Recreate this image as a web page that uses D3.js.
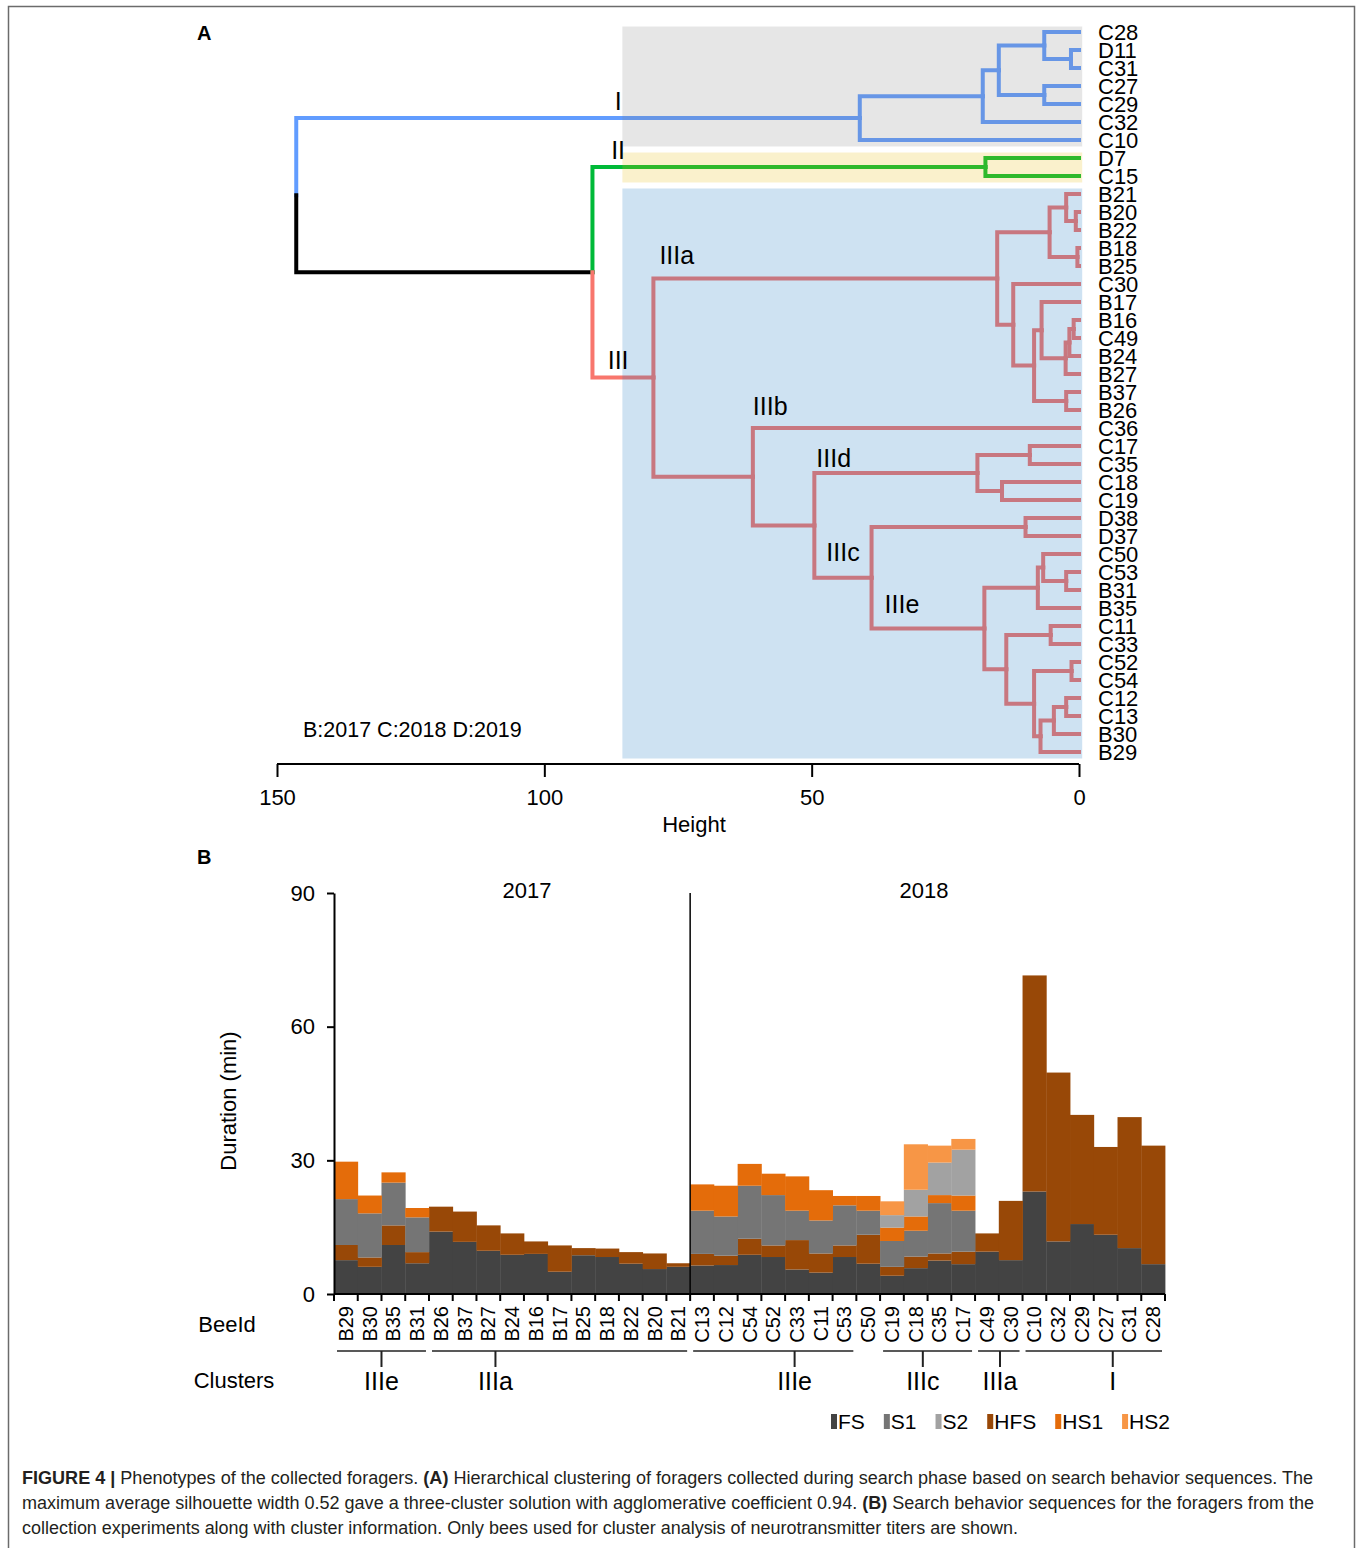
<!DOCTYPE html>
<html>
<head>
<meta charset="utf-8">
<script src="https://cdn.jsdelivr.net/npm/d3@7"></script>
<style>
  body { margin: 0; background: #fff; }
  svg { display: block; font-family: "Liberation Sans", Arial, sans-serif; }
</style>
</head>
<body>
<svg id="fig" width="1362" height="1548"></svg>
<script>
// ---------- Panel A: dendrogram ----------
const leafOrder = ["C28", "D11", "C31", "C27", "C29", "C32", "C10", "D7", "C15",
  "B21", "B20", "B22", "B18", "B25", "C30", "B17", "B16", "C49", "B24", "B27", "B37", "B26",
  "C36", "C17", "C35", "C18", "C19", "D38", "D37", "C50", "C53", "B31", "B35",
  "C11", "C33", "C52", "C54", "C12", "C13", "B30", "B29"];

// [left, right, height]; "mN" refers to the N-th merge
const merges = [
  ["D11", "C31", 1.5],   // m0
  ["C28", "m0", 6.5],    // m1
  ["C27", "C29", 6.5],   // m2
  ["m1", "m2", 15],      // m3
  ["m3", "C32", 18],     // m4
  ["m4", "C10", 41],     // m5  cluster I
  ["D7", "C15", 17.5],   // m6  cluster II
  ["B20", "B22", 0.6],   // m7
  ["B21", "m7", 2.4],    // m8
  ["B18", "B25", 0.3],   // m9
  ["m8", "m9", 5.5],     // m10
  ["B16", "C49", 1.0],   // m11
  ["m11", "B24", 1.8],   // m12
  ["m12", "B27", 2.5],   // m13
  ["B17", "m13", 7.0],   // m14
  ["B37", "B26", 2.4],   // m15
  ["m14", "m15", 8.4],   // m16
  ["C30", "m16", 12.3],  // m17
  ["m10", "m17", 15.3],  // m18 IIIa
  ["C17", "C35", 9.2],   // m19
  ["C18", "C19", 14.4],  // m20
  ["m19", "m20", 19],    // m21 IIId
  ["D38", "D37", 10],    // m22
  ["C53", "B31", 2.4],   // m23
  ["C50", "m23", 6.7],   // m24
  ["m24", "B35", 7.7],   // m25
  ["C11", "C33", 5.3],   // m26
  ["C52", "C54", 1.4],   // m27
  ["C12", "C13", 2.4],   // m28
  ["m28", "B30", 4.7],   // m29
  ["m29", "B29", 7.2],   // m30
  ["m27", "m30", 8.4],   // m31
  ["m26", "m31", 13.6],  // m32
  ["m25", "m32", 17.7],  // m33 IIIe
  ["m22", "m33", 38.8],  // m34 IIIc
  ["m21", "m34", 49.5],  // m35
  ["C36", "m35", 61],    // m36 IIIb
  ["m18", "m36", 79.6],  // m37 III
  ["m6", "m37", 91],     // m38
  ["m5", "m38", 146.4]   // m39 root
];

const clusterColors = { m5: "#619CFF", m6: "#00BA38", m37: "#F8766D" };
const clusterBoxes = [
  { first: "C28", last: "C10", fill: "#808080", op: 0.2 },
  { first: "D7", last: "C15", fill: "#E7B800", op: 0.2 },
  { first: "B21", last: "B29", fill: "#1f7bc3", op: 0.22 }
];
const cutHeight = 85.4;
const clusterTags = ["I", "II", "III", "IIIa", "IIIb", "IIId", "IIIc", "IIIe"];
const heightTicks = [150, 100, 50, 0];

// ---------- Panel B: search behaviour sequences ----------
const bees = ["B29", "B30", "B35", "B31", "B26", "B37", "B27", "B24", "B16", "B17", "B25", "B18", "B22", "B20", "B21",
  "C13", "C12", "C54", "C52", "C33", "C11", "C53", "C50", "C19", "C18", "C35", "C17", "C49", "C30",
  "C10", "C32", "C29", "C27", "C31", "C28"];
const FS  = [7.6, 6.1, 11.0, 6.9, 14.0, 11.7, 9.7, 8.8, 9.0, 5.0, 8.7, 8.3, 6.8, 5.6, 6.1,
  6.4, 6.5, 8.8, 8.3, 5.5, 4.8, 8.3, 6.8, 4.1, 5.8, 7.5, 6.7, 9.5, 7.6,
  23.0, 11.8, 15.7, 13.3, 10.3, 6.7];
const HFS = [3.4, 2.1, 4.4, 2.5, 5.6, 6.8, 5.7, 4.8, 2.8, 5.9, 1.6, 1.9, 2.6, 3.5, 0.8,
  2.6, 2.1, 3.6, 2.6, 6.6, 4.3, 2.6, 6.5, 2.0, 2.6, 1.6, 2.8, 4.1, 13.3,
  48.5, 37.9, 24.5, 19.7, 29.4, 26.6];
const S1  = [10.3, 9.9, 9.6, 7.8, 0, 0, 0, 0, 0, 0, 0, 0, 0, 0, 0,
  9.7, 8.8, 11.9, 11.3, 6.6, 7.4, 9.0, 5.4, 5.8, 5.8, 11.3, 9.2, 0, 0,
  0, 0, 0, 0, 0, 0];
const HS1 = [8.4, 4.0, 2.3, 2.1, 0, 0, 0, 0, 0, 0, 0, 0, 0, 0, 0,
  5.9, 6.9, 4.9, 4.8, 7.7, 6.8, 2.1, 3.3, 3.0, 3.2, 1.8, 3.4, 0, 0,
  0, 0, 0, 0, 0, 0];
const S2  = [0, 0, 0, 0, 0, 0, 0, 0, 0, 0, 0, 0, 0, 0, 0,
  0, 0, 0, 0, 0, 0, 0, 0, 2.8, 6.0, 7.3, 10.3, 0, 0,
  0, 0, 0, 0, 0, 0];
const HS2 = [0, 0, 0, 0, 0, 0, 0, 0, 0, 0, 0, 0, 0, 0, 0,
  0, 0, 0, 0, 0, 0, 0, 0, 3.1, 10.2, 3.8, 2.4, 0, 0,
  0, 0, 0, 0, 0, 0];
const stackOrder = ["FS", "HFS", "S1", "HS1", "S2", "HS2"];
const legendOrder = ["FS", "S1", "S2", "HFS", "HS1", "HS2"];
const stateColors = { FS: "#434343", S1: "#757575", S2: "#a2a2a2", HFS: "#984807", HS1: "#e46c0a", HS2: "#f79646" };
// year blocks (bar index range) and where the title sits (bar units)
const years = [{ label: "2017", from: 0, to: 15, mark: 8.13 }, { label: "2018", from: 15, to: 35, mark: 24.85 }];
const durationTicks = [0, 30, 60, 90];
// cluster brackets under the bars: bar index range and where the mark sits (bar units)
const beeClusters = [
  { label: "IIIe", from: 0, to: 4, mark: 2.0 },
  { label: "IIIa", from: 4, to: 15, mark: 6.8 },
  { label: "IIIe", from: 15, to: 22, mark: 19.4 },
  { label: "IIIc", from: 23, to: 27, mark: 24.8 },
  { label: "IIIa", from: 27, to: 29, mark: 28.05 },
  { label: "I", from: 29, to: 35, mark: 32.8 }
];

const captionLines = [
  [["FIGURE 4 | ", true], ["Phenotypes of the collected foragers. ", false], ["(A)", true],
   [" Hierarchical clustering of foragers collected during search phase based on search behavior sequences. The", false]],
  [["maximum average silhouette width 0.52 gave a three-cluster solution with agglomerative coefficient 0.94. ", false],
   ["(B)", true], [" Search behavior sequences for the foragers from the", false]],
  [["collection experiments along with cluster information. Only bees used for cluster analysis of neurotransmitter titers are shown.", false]]
];

const svg = d3.select("#fig");
svg.append("rect").attr("width", 1362).attr("height", 1548).attr("fill", "#fff");

// figure frame
svg.append("path")
  .attr("d", "M8.5,1560 V6.5 H1354.5 V1560")
  .attr("fill", "none").attr("stroke", "#6b6b6b").attr("stroke-width", 1.5);

// ================= Panel A =================
const xH = d3.scaleLinear().domain([150, 0]).range([277, 1079]);
const yLeaf = d3.scalePoint().domain(leafOrder).range([32, 752]);

const nodes = {};
leafOrder.forEach(n => { nodes[n] = { id: n, h: 0, y: yLeaf(n), children: [] }; });
merges.forEach((m, i) => {
  const a = nodes[m[0]], b = nodes[m[1]];
  nodes["m" + i] = { id: "m" + i, h: m[2], y: (a.y + b.y) / 2, children: [a, b] };
});
const root = nodes["m" + (merges.length - 1)];

const links = [];
function walk(node, color) {
  node.children.forEach(ch => {
    const c = clusterColors[ch.id] || color;
    links.push({ source: node, target: ch, color: c });
    walk(ch, c);
  });
}
walk(root, "#000");

const gA = svg.append("g");
gA.append("g").selectAll("path")
  .data(links)
  .join("path")
  .attr("d", d => `M${xH(d.source.h)},${d.source.y}V${d.target.y}H${xH(d.target.h)}`)
  .attr("fill", "none")
  .attr("stroke", d => d.color)
  .attr("stroke-width", 4)
  .attr("stroke-linecap", "square");

// translucent cluster boxes over the branches
gA.append("g").selectAll("rect")
  .data(clusterBoxes)
  .join("rect")
  .attr("x", xH(cutHeight))
  .attr("width", xH(-0.6) - xH(cutHeight))
  .attr("y", d => yLeaf(d.first) - 5.5)
  .attr("height", d => yLeaf(d.last) - yLeaf(d.first) + 12)
  .attr("fill", d => d.fill)
  .attr("fill-opacity", d => d.op);

// leaf labels
gA.append("g").selectAll("text")
  .data(leafOrder)
  .join("text")
  .attr("x", xH(0) + 19)
  .attr("y", d => yLeaf(d) + 8)
  .attr("font-size", 22)
  .text(d => d);

// cluster tags
const N = id => nodes[id];
const tagPlace = {
  I:    { x: xH(86.2), y: N("m5").y - 8, anchor: "middle" },
  II:   { x: xH(86.2), y: N("m6").y - 8, anchor: "middle" },
  III:  { x: xH(86.2), y: N("m37").y - 9, anchor: "middle" },
  IIIa: { x: xH(N("m37").h) + 6, y: N("m18").y - 15, anchor: "start" },
  IIIb: { x: xH(N("m36").h), y: yLeaf("C36") - 13, anchor: "start" },
  IIId: { x: xH(N("m35").h) + 2, y: N("m21").y - 6, anchor: "start" },
  IIIc: { x: xH(N("m35").h) + 12, y: N("m34").y - 17, anchor: "start" },
  IIIe: { x: xH(N("m34").h) + 13, y: N("m33").y - 16, anchor: "start" }
};
gA.append("g").selectAll("text")
  .data(clusterTags)
  .join("text")
  .attr("x", d => tagPlace[d].x)
  .attr("y", d => tagPlace[d].y)
  .attr("text-anchor", d => tagPlace[d].anchor)
  .attr("font-size", 25)
  .text(d => d);

gA.append("text").attr("x", 303).attr("y", 737).attr("font-size", 21.5).text("B:2017 C:2018 D:2019");

// height axis
const axA = gA.append("g").attr("transform", "translate(0,764)")
  .call(d3.axisBottom(xH).tickValues(heightTicks).tickSize(13).tickPadding(12).tickSizeOuter(0));
axA.select(".domain").attr("stroke-width", 2).attr("d", `M${xH(150)},0H${xH(0)}`);
axA.selectAll(".tick line").attr("stroke-width", 2);
axA.selectAll(".tick text").attr("font-size", 22).attr("font-family", "Liberation Sans, Arial, sans-serif").attr("fill", "#000");
gA.append("text").attr("x", 694).attr("y", 832).attr("text-anchor", "middle").attr("font-size", 22).text("Height");

svg.append("text").attr("x", 197).attr("y", 40).attr("font-size", 20).attr("font-weight", "bold").text("A");
svg.append("text").attr("x", 197).attr("y", 864).attr("font-size", 20).attr("font-weight", "bold").text("B");

// ================= Panel B =================
const xB = d3.scaleBand().domain(bees).range([334, 1165]).paddingInner(0).paddingOuter(0);
const xU = d3.scaleLinear().domain([0, bees.length]).range([334, 1165]);
const yB = d3.scaleLinear().domain([0, 90]).range([1294, 893]);

const rows = bees.map((b, i) => ({ bee: b, FS: FS[i], HFS: HFS[i], S1: S1[i], HS1: HS1[i], S2: S2[i], HS2: HS2[i] }));
const series = d3.stack().keys(stackOrder)(rows);

const gB = svg.append("g");
gB.append("g").selectAll("g")
  .data(series)
  .join("g")
  .attr("fill", d => stateColors[d.key])
  .selectAll("rect")
  .data(d => d)
  .join("rect")
  .attr("x", d => xB(d.data.bee))
  .attr("width", xB.bandwidth() + 0.4)
  .attr("y", d => yB(d[1]))
  .attr("height", d => Math.max(0, yB(d[0]) - yB(d[1])));

// y axis
const axY = gB.append("g").attr("transform", "translate(334,0)")
  .call(d3.axisLeft(yB).tickValues(durationTicks).tickSize(7).tickPadding(12).tickSizeOuter(0));
axY.select(".domain").attr("stroke-width", 2);
axY.selectAll(".tick line").attr("stroke-width", 2);
axY.selectAll(".tick text").attr("font-size", 22).attr("font-family", "Liberation Sans, Arial, sans-serif").attr("fill", "#000");

// year divider and titles
gB.append("line")
  .attr("x1", xU(years[1].from)).attr("x2", xU(years[1].from))
  .attr("y1", yB(90)).attr("y2", yB(0))
  .attr("stroke", "#000").attr("stroke-width", 1.5);
gB.append("g").selectAll("text")
  .data(years)
  .join("text")
  .attr("x", d => xU(d.mark))
  .attr("y", 898)
  .attr("text-anchor", "middle")
  .attr("font-size", 22)
  .text(d => d.label);

// x axis with ticks at bar boundaries
const xAxisG = gB.append("g").attr("transform", `translate(0,${yB(0)})`);
xAxisG.append("line").attr("x1", xU(0)).attr("x2", xU(bees.length))
  .attr("stroke", "#000").attr("stroke-width", 2);
xAxisG.selectAll("line.tk")
  .data(d3.range(bees.length + 1))
  .join("line")
  .attr("class", "tk")
  .attr("x1", d => xU(d)).attr("x2", d => xU(d))
  .attr("y1", 0).attr("y2", 7)
  .attr("stroke", "#000").attr("stroke-width", 2);

// bee labels (rotated)
gB.append("g").selectAll("text")
  .data(bees)
  .join("text")
  .attr("transform", d => `translate(${xB(d) + xB.bandwidth() / 2 + 7},1306) rotate(-90)`)
  .attr("text-anchor", "end")
  .attr("font-size", 20)
  .text(d => d);

gB.append("text").attr("x", 227).attr("y", 1332).attr("text-anchor", "middle").attr("font-size", 22).text("BeeId");
gB.append("text").attr("x", 234).attr("y", 1388).attr("text-anchor", "middle").attr("font-size", 22).text("Clusters");
gB.append("text")
  .attr("transform", "translate(236,1101) rotate(-90)")
  .attr("text-anchor", "middle").attr("font-size", 22).text("Duration (min)");

// cluster brackets
const br = gB.append("g").selectAll("g").data(beeClusters).join("g");
br.append("line")
  .attr("x1", d => xU(d.from) + 3).attr("x2", d => xU(d.to) - 3)
  .attr("y1", 1351).attr("y2", 1351)
  .attr("stroke", "#222").attr("stroke-width", 1.5);
br.append("line")
  .attr("x1", d => xU(d.mark)).attr("x2", d => xU(d.mark))
  .attr("y1", 1351).attr("y2", 1367)
  .attr("stroke", "#222").attr("stroke-width", 2);
br.append("text")
  .attr("x", d => xU(d.mark))
  .attr("y", 1390)
  .attr("text-anchor", "middle")
  .attr("font-size", 25)
  .text(d => d.label);

// legend
const leg = gB.append("g").attr("transform", "translate(831,0)");
let lx = 0;
legendOrder.forEach(k => {
  leg.append("rect").attr("x", lx).attr("y", 1414).attr("width", 6).attr("height", 15).attr("fill", stateColors[k]);
  const t = leg.append("text").attr("x", lx + 7).attr("y", 1429).attr("font-size", 21).text(k);
  lx += 7 + t.node().getComputedTextLength() + 19;
});

// ================= Caption =================
const capY = [1484, 1509, 1534];
const capW = [1291, 1292, 996];
captionLines.forEach((line, i) => {
  const t = svg.append("text")
    .attr("x", 22).attr("y", capY[i])
    .attr("font-size", 17.5)
    .attr("fill", "#231f20")
    .attr("textLength", capW[i])
    .attr("lengthAdjust", "spacingAndGlyphs");
  line.forEach(seg => {
    t.append("tspan").attr("font-weight", seg[1] ? "bold" : null).text(seg[0]);
  });
});
</script>
</body>
</html>
